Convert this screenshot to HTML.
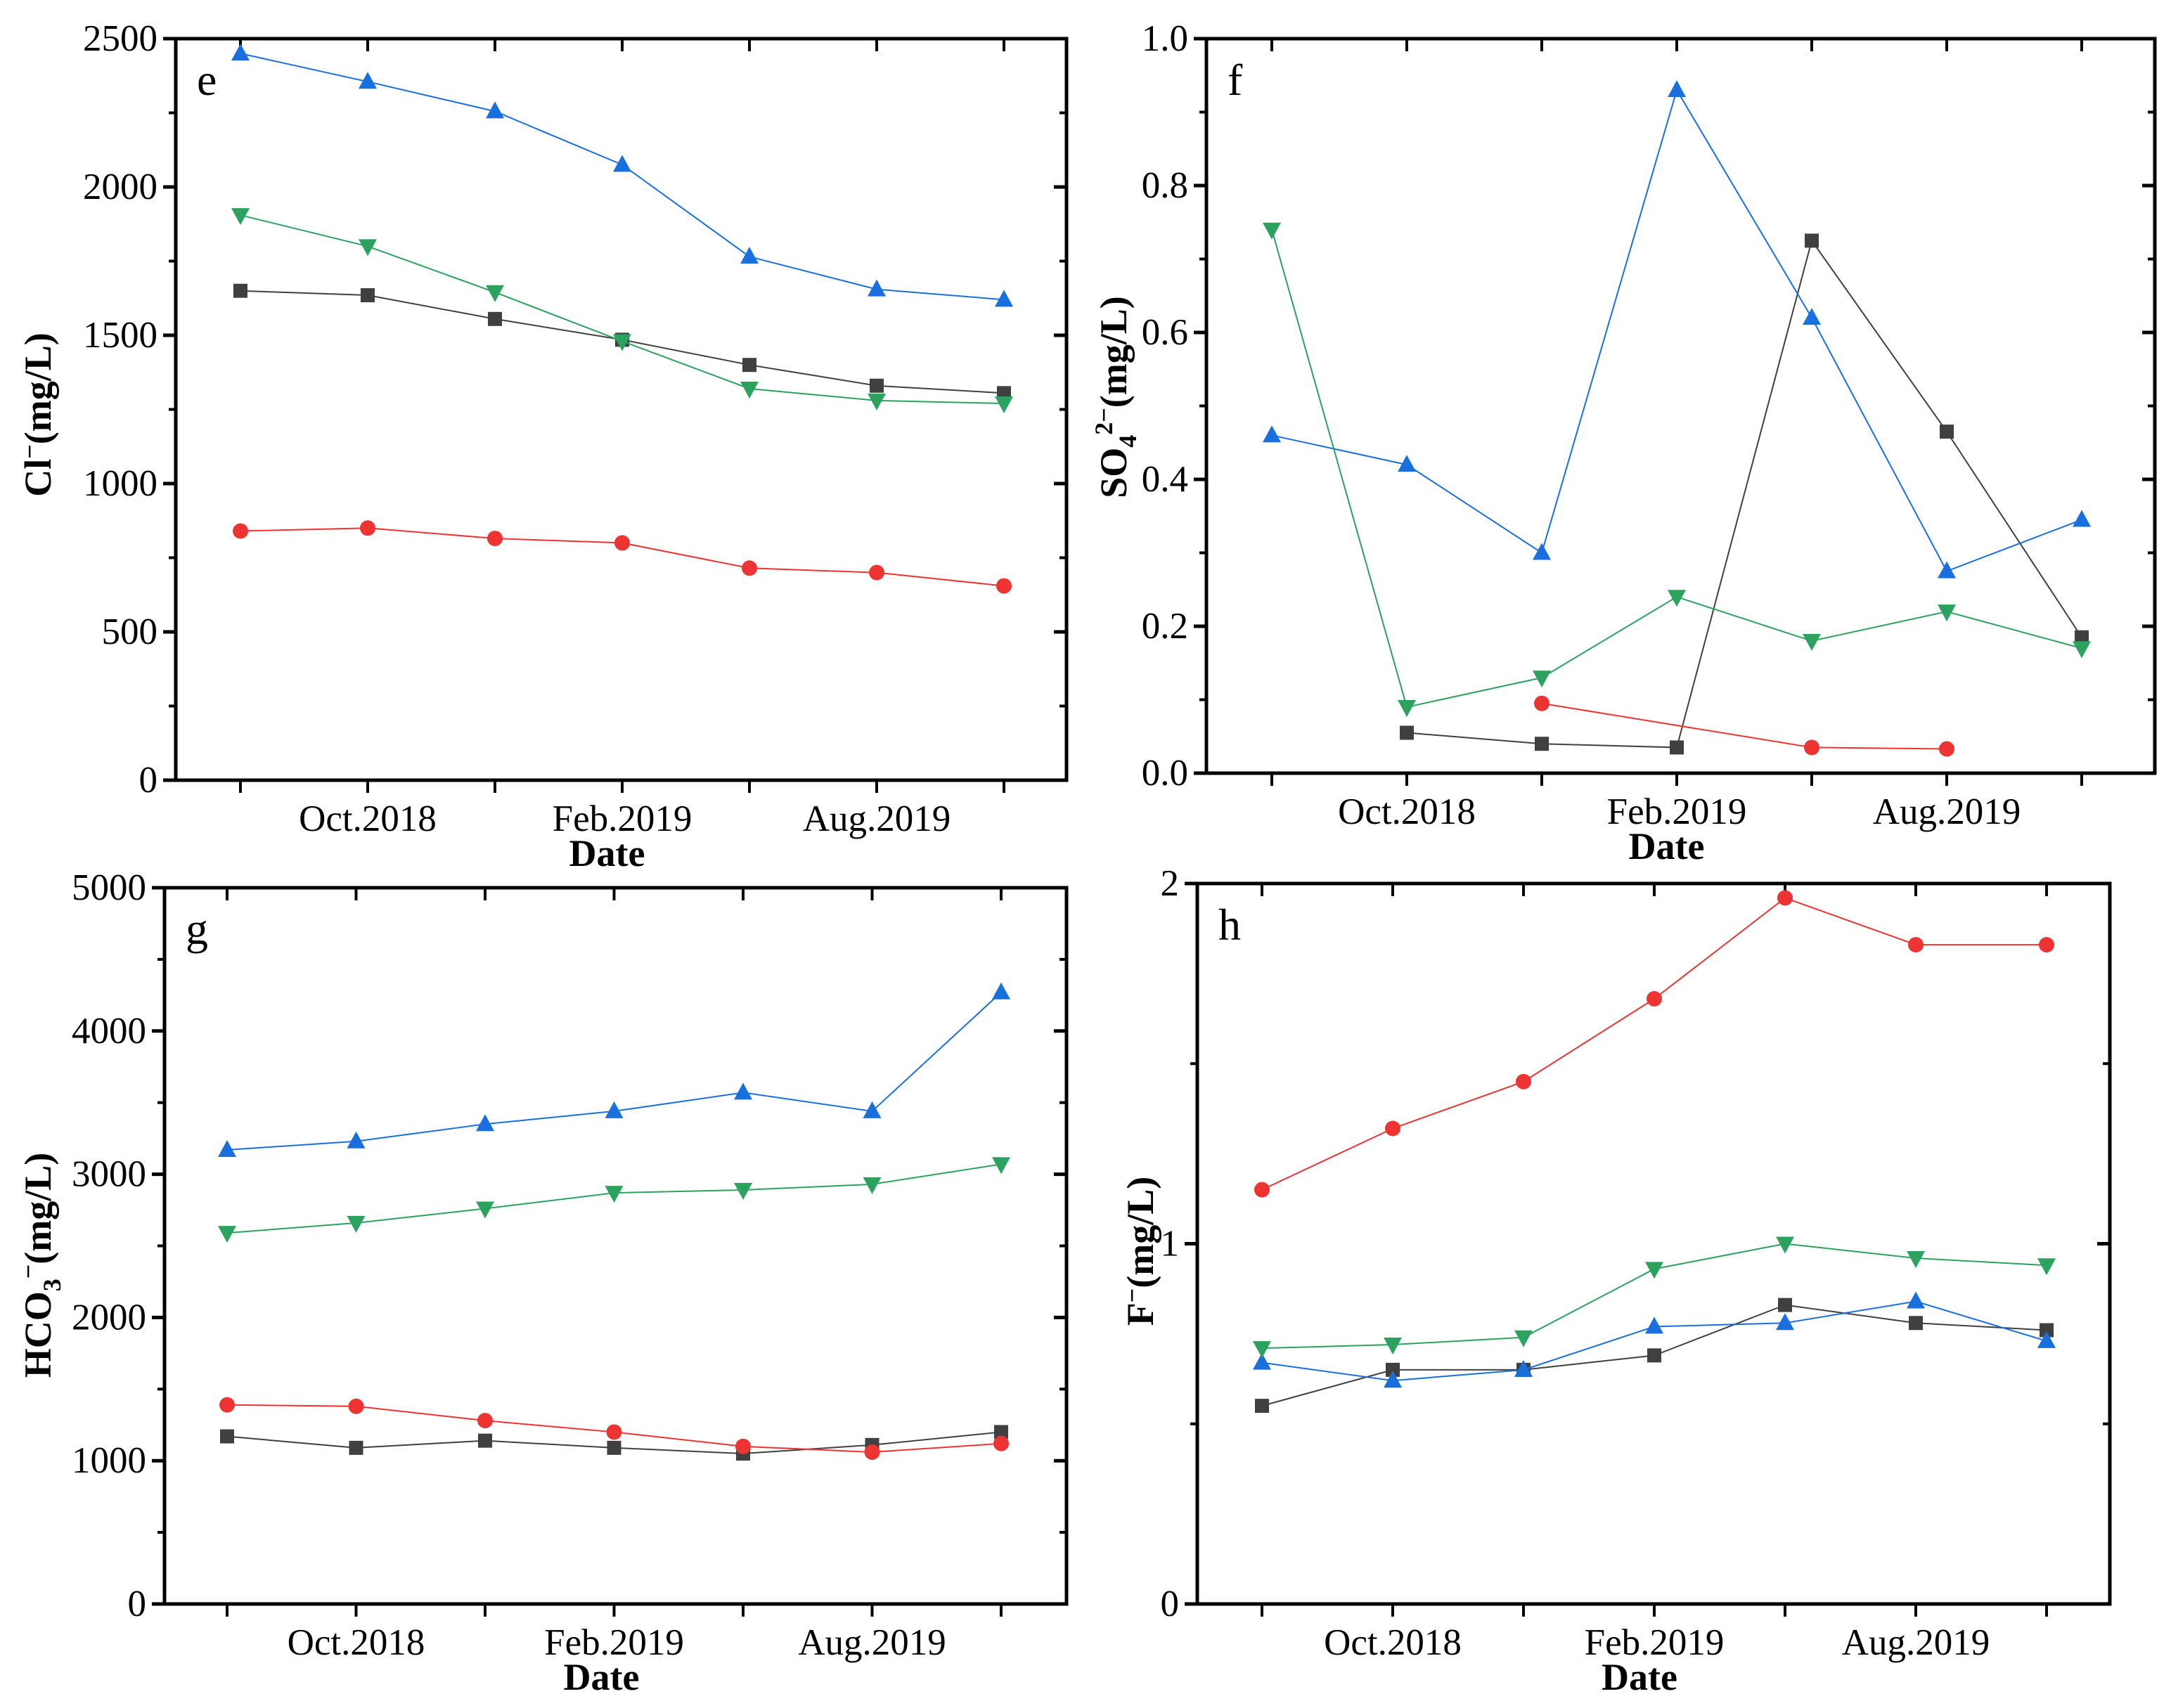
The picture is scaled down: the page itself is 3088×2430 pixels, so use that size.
<!DOCTYPE html>
<html><head><meta charset="utf-8"><style>
html,body{margin:0;padding:0;background:#fff}
svg{display:block;font-family:"Liberation Serif",serif}
</style></head><body>
<svg id="fig" width="3088" height="2430" viewBox="0 0 3088 2430" xmlns="http://www.w3.org/2000/svg"></svg>
<script>
const dates = ["Jun.2018","Oct.2018","Dec.2018","Feb.2019","Apr.2019","Aug.2019","Oct.2019"];
const xLabels = ["","Oct.2018","","Feb.2019","","Aug.2019",""];
// panel e (Cl-)
const eBlue = [2450,2355,2255,2075,1765,1655,1620];
const eGreen = [1905,1800,1645,1480,1320,1280,1270];
const eBlack = [1650,1635,1555,1485,1400,1330,1305];
const eRed = [840,850,815,800,715,700,655];
const eTicks = [0,500,1000,1500,2000,2500];
// panel f (SO4)
const fBlue = [0.46,0.42,0.30,0.93,0.62,0.275,0.345];
const fGreen = [0.74,0.09,0.13,0.24,0.18,0.22,0.17];
const fBlack = [null,0.055,0.04,0.035,0.725,0.465,0.185];
const fRed = [null,null,0.095,null,0.035,0.033,null];
const fTicks = [0,0.2,0.4,0.6,0.8,1.0];
// panel g (HCO3)
const gBlue = [3170,3230,3350,3440,3570,3440,4270];
const gGreen = [2590,2660,2760,2870,2890,2930,3070];
const gRed = [1390,1380,1280,1200,1100,1060,1120];
const gBlack = [1170,1090,1140,1090,1050,1110,1200];
const gTicks = [0,1000,2000,3000,4000,5000];
// panel h (F)
const hRed = [1.15,1.32,1.45,1.68,1.96,1.83,1.83];
const hGreen = [0.71,0.72,0.74,0.93,1.0,0.96,0.94];
const hBlue = [0.67,0.62,0.65,0.77,0.78,0.84,0.73];
const hBlack = [0.55,0.65,0.65,0.69,0.83,0.78,0.76];
const hTicks = [0,1,2];

const NS="http://www.w3.org/2000/svg";
const svg=document.getElementById('fig');
function mk(tag,attrs,parent){const e=document.createElementNS(NS,tag);for(const k in attrs)e.setAttribute(k,attrs[k]);(parent||svg).appendChild(e);return e;}
const COL={blue:"#1a6fdf",green:"#2ca25f",black:"#404040",red:"#ee3333"};

function panel(p){
  const g=mk('g',{});
  
  
  const sx=i=>p.x0+p.dx*i;
  const sy=v=>p.bot-(v-p.ymin)/(p.ymax-p.ymin)*(p.bot-p.top);
  const fr=mk('rect',{x:p.l,y:p.top,width:p.r-p.l,height:p.bot-p.top,fill:'none',stroke:'#000','stroke-width':5},g);
  
  
  const step=p.ticks[1]-p.ticks[0];
  for(let k=0;k<p.ticks.length;k++){
    const v=p.ticks[k], y=sy(v);
    mk('line',{x1:p.l-18,y1:y,x2:p.l,y2:y,stroke:'#000','stroke-width':5},g);
    mk('line',{x1:p.r,y1:y,x2:p.r-18,y2:y,stroke:'#000','stroke-width':5},g);
    const t=mk('text',{x:p.l-26,y:y+17,'text-anchor':'end','font-size':53},g);
    t.textContent=p.fmt(v);
    
    
    if(k<p.ticks.length-1){const ym=sy(v+step/2);
      mk('line',{x1:p.l-10,y1:ym,x2:p.l,y2:ym,stroke:'#000','stroke-width':4},g);
      mk('line',{x1:p.r,y1:ym,x2:p.r-10,y2:ym,stroke:'#000','stroke-width':4},g);}
  }
  for(let i=0;i<dates.length;i++){
    const x=sx(i);
    mk('line',{x1:x,y1:p.bot,x2:x,y2:p.bot+18,stroke:'#000','stroke-width':4},g);
    mk('line',{x1:x,y1:p.top,x2:x,y2:p.top+18,stroke:'#000','stroke-width':4},g);
    if(xLabels[i]){const t=mk('text',{x:x,y:p.bot+72,'text-anchor':'middle','font-size':53},g);
      t.textContent=xLabels[i];
      
      }
  }
  const dt=mk('text',{x:(p.l+p.r)/2-20,y:p.bot+122,'text-anchor':'middle','font-size':54,'font-weight':'bold'},g);
  dt.textContent='Date';
  
  
  const lt=mk('text',{x:p.l+30,y:p.top+80,'font-size':64},g);
  lt.textContent=p.id;
  
  
  const yt=mk('text',{x:0,y:0,'text-anchor':'middle','font-size':54,'font-weight':'bold',transform:`translate(${p.ytx},${p.tyc}) rotate(-90)`},g);
  yt.innerHTML=p.title;
  
  
  for(const s of p.series){
    const sg=mk('g',{},g);
    
    
    const pts=[];s.d.forEach((v,i)=>{if(v!==null)pts.push([sx(i),sy(v)]);});
    mk('polyline',{points:pts.map(q=>q.join(',')).join(' '),fill:'none',stroke:COL[s.c],'stroke-width':2},sg);
    for(const [x,y] of pts){
      let m;
      if(s.m==='sq') m=mk('rect',{x:x-10,y:y-10,width:20,height:20,fill:COL[s.c]},sg);
      else if(s.m==='ci') m=mk('circle',{cx:x,cy:y,r:11,fill:COL[s.c]},sg);
      else if(s.m==='up') m=mk('polygon',{points:`${x},${y-14} ${x-13},${y+10} ${x+13},${y+10}`,fill:COL[s.c]},sg);
      else m=mk('polygon',{points:`${x},${y+14} ${x-13},${y-10} ${x+13},${y-10}`,fill:COL[s.c]},sg);
      
      
    }
  }
}
const f0=v=>String(v), f1=v=>v.toFixed(1);
panel({id:'e',l:250,r:1517,top:55,bot:1110,x0:342,dx:181,ymin:0,ymax:2500,ticks:eTicks,fmt:f0,ytx:72,tyc:590,
 title:'Cl<tspan dy="-18" font-size="36">−</tspan><tspan dy="18">(mg/L)</tspan>',
 series:[{d:eBlack,c:'black',m:'sq'},{d:eRed,c:'red',m:'ci'},{d:eBlue,c:'blue',m:'up'},{d:eGreen,c:'green',m:'dn'}]});
panel({id:'f',l:1716,r:3065,top:55,bot:1100,x0:1809,dx:192,ymin:0,ymax:1,ticks:fTicks,fmt:f1,ytx:1602,tyc:565,
 title:'SO<tspan dy="14" font-size="36">4</tspan><tspan dy="-34" font-size="36">2−</tspan><tspan dy="20">(mg/L)</tspan>',
 series:[{d:fBlack,c:'black',m:'sq'},{d:fRed,c:'red',m:'ci'},{d:fBlue,c:'blue',m:'up'},{d:fGreen,c:'green',m:'dn'}]});
panel({id:'g',l:234,r:1517,top:1263,bot:2282,x0:323,dx:183.5,ymin:0,ymax:5000,ticks:gTicks,fmt:f0,ytx:72,tyc:1800,
 title:'HCO<tspan dy="14" font-size="36">3</tspan><tspan dy="-34" font-size="36">−</tspan><tspan dy="20">(mg/L)</tspan>',
 series:[{d:gBlack,c:'black',m:'sq'},{d:gRed,c:'red',m:'ci'},{d:gBlue,c:'blue',m:'up'},{d:gGreen,c:'green',m:'dn'}]});
panel({id:'h',l:1703,r:3001,top:1257,bot:2282,x0:1795,dx:186,ymin:0,ymax:2,ticks:hTicks,fmt:f0,ytx:1640,tyc:1780,
 title:'F<tspan dy="-18" font-size="36">−</tspan><tspan dy="18">(mg/L)</tspan>',
 series:[{d:hBlack,c:'black',m:'sq'},{d:hRed,c:'red',m:'ci'},{d:hBlue,c:'blue',m:'up'},{d:hGreen,c:'green',m:'dn'}]});
</script>
</body></html>
